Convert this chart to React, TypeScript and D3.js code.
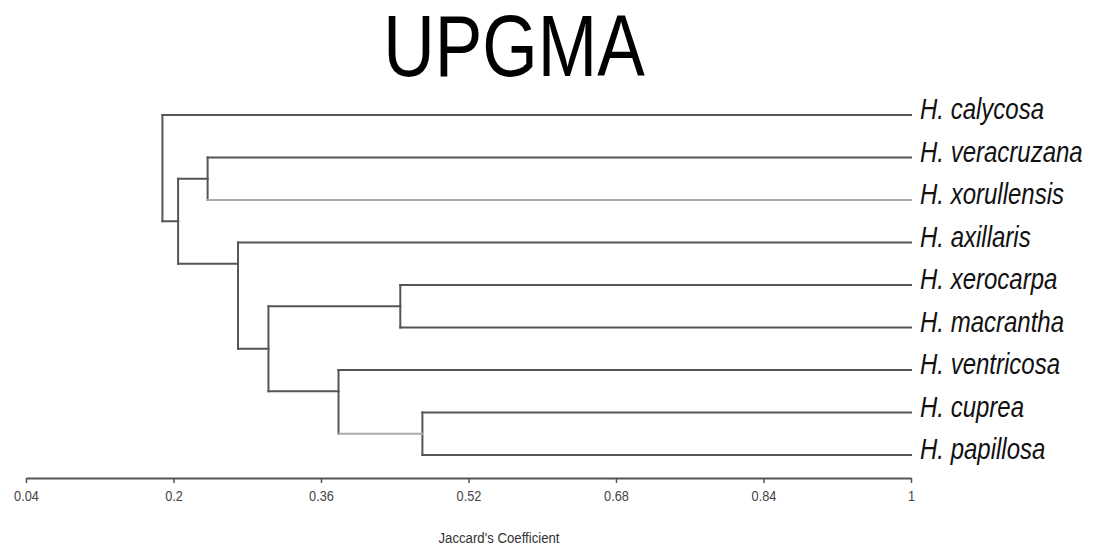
import React, { useEffect, useRef } from 'react';
import * as d3 from 'd3';

// leaf order, top to bottom
const leaves = [
  'H. calycosa',
  'H. veracruzana',
  'H. xorullensis',
  'H. axillaris',
  'H. xerocarpa',
  'H. macrantha',
  'H. ventricosa',
  'H. cuprea',
  'H. papillosa',
];

// UPGMA joins, in the order they happen
const mergeIds = ['c1', 'c2', 'c3', 'c4', 'c5', 'c6', 'c7', 'root'];
const mergeChildren = [
  ['H. cuprea', 'H. papillosa'],
  ['H. xerocarpa', 'H. macrantha'],
  ['H. ventricosa', 'c1'],
  ['c2', 'c3'],
  ['H. axillaris', 'c4'],
  ['H. veracruzana', 'H. xorullensis'],
  ['c6', 'c5'],
  ['H. calycosa', 'c7'],
];
const mergeLevels = [0.47, 0.446, 0.379, 0.303, 0.27, 0.237, 0.205, 0.188];

const tickValues = [0.04, 0.2, 0.36, 0.52, 0.68, 0.84, 1];

// branches drawn lighter in the original
const lightBranches = ['H. xorullensis', 'c1'];

const W = 1099;
const H = 546;

const x = d3.scaleLinear().domain([0.04, 1]).range([26, 911]);
const y = d3.scaleLinear().domain([0, leaves.length - 1]).range([115, 455]);

export default function App() {
  const axisRef = useRef<SVGGElement>(null);

  // node positions (leaf index units) and levels
  const pos: Record<string, number> = {};
  const level: Record<string, number> = {};
  leaves.forEach((l, i) => { pos[l] = i; level[l] = 1; });
  mergeIds.forEach((id, i) => {
    const [a, b] = mergeChildren[i];
    level[id] = mergeLevels[i];
    pos[id] = leaves.includes(a) ? pos[a] + 0.5 : (pos[a] + pos[b]) / 2;
  });

  const segs: { x1: number; y1: number; x2: number; y2: number; light: boolean }[] = [];
  mergeIds.forEach((id, i) => {
    const [a, b] = mergeChildren[i];
    const nx = x(level[id]);
    segs.push({ x1: nx, y1: y(pos[a]), x2: nx, y2: y(pos[b]), light: false });
    [a, b].forEach(c => {
      segs.push({ x1: nx, y1: y(pos[c]), x2: x(level[c]), y2: y(pos[c]), light: lightBranches.includes(c) });
    });
  });

  useEffect(() => {
    const g = d3.select(axisRef.current);
    g.selectAll('*').remove();
    g.call(d3.axisBottom(x).tickValues(tickValues).tickFormat(d => String(d)).tickSize(5).tickSizeOuter(0) as any);
    g.select('.domain').attr('stroke', '#555').attr('stroke-width', 2);
    g.selectAll('.tick line').attr('stroke', '#555').attr('stroke-width', 1.5);
    g.selectAll('.tick text')
      .attr('y', 0)
      .attr('dy', 0)
      .attr('transform', 'translate(0,23) scale(0.85,1)')
      .attr('fill', '#444')
      .style('font-size', '15px')
      .style('font-family', 'Liberation Sans, Arial, sans-serif');
  }, []);

  return (
    <svg width={W} height={H} style={{ position: 'absolute', left: 0, top: 0, background: '#fff' }}>
      <text transform="translate(514,76) scale(0.81,1)" textAnchor="middle"
        style={{ fontFamily: 'Liberation Sans, Arial, sans-serif', fontSize: 88 }} fill="#000">UPGMA</text>

      {segs.map((s, i) => (
        <line key={i} x1={s.x1} y1={s.y1} x2={s.x2} y2={s.y2}
          stroke={s.light ? '#aaa' : '#555'} strokeWidth={2} strokeLinecap="square" />
      ))}

      {leaves.map((l, i) => (
        <text key={l} transform={`translate(920,${y(i) + 4}) scale(0.8,1)`}
          style={{ fontFamily: 'Liberation Sans, Arial, sans-serif', fontSize: 30, fontStyle: 'italic' }}
          fill="#111">{l}</text>
      ))}

      <g ref={axisRef} transform="translate(0,478)" />

      <text transform="translate(499,543) scale(0.88,1)" textAnchor="middle"
        style={{ fontFamily: 'Liberation Sans, Arial, sans-serif', fontSize: 15 }} fill="#333">Jaccard's Coefficient</text>
    </svg>
  );
}
